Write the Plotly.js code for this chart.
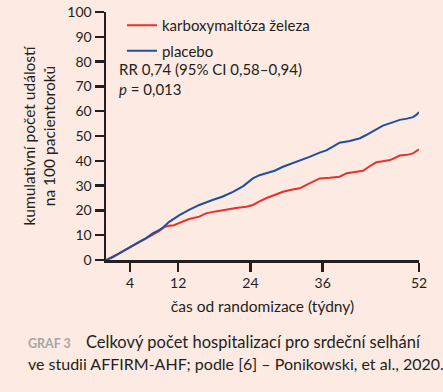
<!DOCTYPE html>
<html>
<head>
<meta charset="utf-8">
<script src="https://cdn.plot.ly/plotly-3.0.1.min.js"></script>
<style>
  html, body { margin: 0; padding: 0; background: #fdeae3; }
  #chart { width: 443px; height: 392px; }
</style>
</head>
<body>
<div id="chart"></div>
<script>
// ---- data ----
const weeksFcm = [0, 1, 2.2, 3.3, 4.4, 5.5, 6.6, 7.7, 8.8, 9.8, 10.5, 11.3, 12.2, 13.8, 15.5, 16.6, 18.2, 19.9, 21.6, 23.3, 24.4, 25.5, 26.6, 28, 29.4, 30.8, 32.2, 33.3, 34.4, 35.5, 37.2, 38.8, 40, 41.5, 42.7, 43.8, 44.9, 46, 47.2, 48.8, 50, 51, 52];
const valuesFcm = [0, 1.1, 2.7, 4.2, 5.6, 7.0, 8.7, 10.1, 11.6, 13.4, 13.8, 14.0, 15.0, 16.5, 17.5, 18.8, 19.6, 20.4, 21.0, 21.5, 22.2, 23.6, 24.9, 26.2, 27.5, 28.3, 28.9, 30.3, 31.6, 32.9, 33.2, 33.6, 35.0, 35.5, 36.0, 37.8, 39.4, 39.8, 40.3, 42.1, 42.4, 43.0, 44.6];

const weeksPlacebo = [0, 1, 2.2, 3.3, 4.4, 5.5, 6.6, 7.7, 8.8, 9.5, 10.5, 12.2, 13.8, 15.5, 17.7, 19.4, 21.1, 22.8, 24.4, 25.5, 26.6, 28, 29.4, 30.8, 32.2, 33.8, 35.5, 36.6, 37.7, 38.8, 40.5, 42.2, 43.3, 44.4, 46, 47.5, 48.8, 50, 51, 51.6, 52];
const valuesPlacebo = [0, 1.0, 2.7, 4.3, 6.0, 7.3, 8.7, 10.6, 12.0, 13.2, 15.4, 18.1, 20.2, 22.2, 24.2, 25.6, 27.5, 29.8, 32.9, 34.2, 35.0, 36.0, 37.6, 38.8, 40.3, 41.6, 43.3, 44.2, 45.7, 47.3, 48.0, 49.1, 50.5, 52.0, 54.2, 55.4, 56.5, 57.0, 57.6, 58.6, 59.6];

const seriesNames = ["karboxymaltóza železa", "placebo"];
const xTickVals = [4, 12, 24, 36, 52];
const yTickVals = [0, 10, 20, 30, 40, 50, 60, 70, 80, 90, 100];

const FONT = "Lato, 'Noto Sans', sans-serif";
const TXT = "#231f20";

const traces = [
  { x: weeksFcm, y: valuesFcm, name: seriesNames[0], legendgroup: "a", type: "scatter", mode: "lines",
    line: { color: "#e8312a", width: 2 } },
  { x: weeksPlacebo, y: valuesPlacebo, name: seriesNames[1], legendgroup: "b", type: "scatter", mode: "lines",
    line: { color: "#1e4f9c", width: 2 } }
];

const layout = {
  width: 443, height: 392,
  paper_bgcolor: "#fdeae3", plot_bgcolor: "#fdeae3",
  margin: { l: 106, r: 24, t: 12, b: 132, autoexpand: false },
  font: { family: FONT, color: TXT, size: 14 },
  showlegend: true,
  legend: { x: 0.051, y: 1 - 9 / 392, yref: "container", xanchor: "left", yanchor: "top", bgcolor: "rgba(0,0,0,0)",
            traceorder: "grouped", tracegroupgap: 3,
            font: { size: 15, family: FONT, color: TXT }, itemwidth: 30 },
  xaxis: {
    range: [0, 52], tickvals: xTickVals, ticks: "outside", ticklen: 9, tickwidth: 2.5,
    tickcolor: TXT, showline: true, linecolor: TXT, linewidth: 2.5, showgrid: false, zeroline: false,
    tickfont: { size: 14, family: FONT, color: TXT },
    title: { text: "čas od randomizace (týdny)", font: { size: 15.5, family: FONT, color: TXT }, standoff: 11 },
    fixedrange: true
  },
  yaxis: {
    range: [0, 100], tickvals: yTickVals, ticks: "outside", ticklen: 9, tickwidth: 2.5,
    tickcolor: TXT, showline: true, linecolor: TXT, linewidth: 2.5, showgrid: false, zeroline: false,
    tickfont: { size: 14, family: FONT, color: TXT },
    title: { text: "kumulativní počet událostí<br>na 100 pacientoroků", font: { size: 15.5, family: FONT, color: TXT }, standoff: 8 },
    fixedrange: true
  },
  annotations: [
    { xref: "paper", yref: "paper", x: 0.035, y: 0.772, xanchor: "left", yanchor: "middle",
      text: "RR 0,74 (95% CI 0,58–0,94)", showarrow: false, font: { size: 15, family: FONT, color: TXT } },
    { xref: "paper", yref: "paper", x: 0.035, y: 0.691, xanchor: "left", yanchor: "middle",
      text: "<i>p</i> = 0,013", showarrow: false, font: { size: 15, family: FONT, color: TXT } },
    { xref: "paper", yref: "paper", x: (26 - 106) / 313, y: (260 - 343) / 248, xanchor: "left", yanchor: "middle",
      text: "<b>GRAF 3</b>", showarrow: false, font: { size: 12.5, family: FONT, color: "#a6a6a6" } },
    { xref: "paper", yref: "paper", x: (84 - 106) / 313, y: (260 - 342) / 248, xanchor: "left", yanchor: "middle",
      text: "Celkový počet hospitalizací pro srdeční selhání", showarrow: false, font: { size: 16.5, family: FONT, color: TXT } },
    { xref: "paper", yref: "paper", x: (26 - 106) / 313, y: (260 - 363) / 248, xanchor: "left", yanchor: "middle",
      text: "ve studii AFFIRM-AHF; podle [6] – Ponikowski, et al., 2020.", showarrow: false, font: { size: 16, family: FONT, color: TXT } }
  ]
};

Plotly.newPlot("chart", traces, layout, { displayModeBar: false, staticPlot: true });
</script>
</body>
</html>
